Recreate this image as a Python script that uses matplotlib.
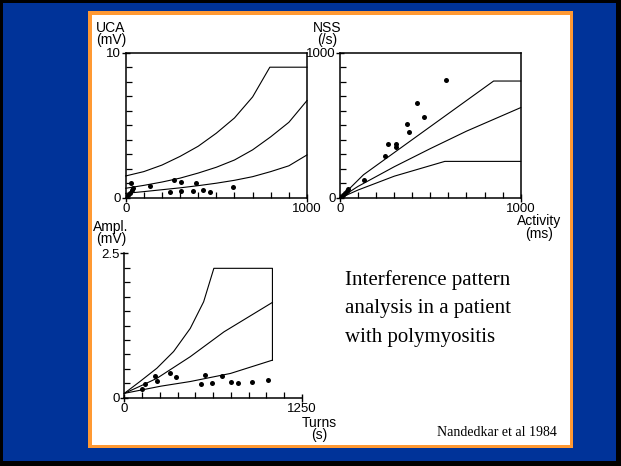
import numpy as np
import matplotlib
matplotlib.use("Agg")
import matplotlib.pyplot as plt
from matplotlib.patches import Rectangle

W, H = 621, 466
BLUE = "#003399"
ORANGE = "#FF9933"

# ── UCA (mV) vs activity (ms) ─────────────────────────────────────────────
uca_hi_x = [0, 100, 200, 300, 400, 500, 600, 700, 795, 1000]
uca_hi_y = [1.5, 1.8, 2.25, 2.85, 3.55, 4.45, 5.5, 6.95, 9.0, 9.0]
uca_mid_x = [0, 100, 200, 300, 400, 500, 600, 700, 800, 900, 1000]
uca_mid_y = [0.65, 0.85, 1.08, 1.35, 1.7, 2.1, 2.6, 3.3, 4.2, 5.2, 6.7]
uca_lo_x = [0, 100, 200, 300, 400, 500, 600, 700, 800, 900, 1000]
uca_lo_y = [0.3, 0.42, 0.55, 0.68, 0.83, 1.0, 1.2, 1.45, 1.8, 2.2, 2.95]
uca_pts_x = [15, 24, 33, 42, 28, 134, 267, 305, 386, 244, 305, 369, 428, 467, 594]
uca_pts_y = [0.18, 0.34, 0.53, 0.64, 1.0, 0.8, 1.22, 1.06, 1.03, 0.39, 0.46, 0.46, 0.53, 0.39, 0.76]

# ── NSS (/s) vs activity (ms) ─────────────────────────────────────────────
nss_hi_x = [0, 130, 850, 1000]
nss_hi_y = [0, 160, 805, 805]
nss_mid_x = [0, 100, 300, 500, 700, 1000]
nss_mid_y = [0, 80, 215, 340, 460, 622]
nss_lo_x = [0, 100, 300, 580, 1000]
nss_lo_y = [0, 55, 150, 252, 252]
nss_pts_x = [18, 28, 37, 46, 135, 249, 264, 308, 308, 369, 384, 426, 463, 587]
nss_pts_y = [23, 34, 50, 64, 124, 291, 373, 373, 348, 510, 453, 657, 556, 812]

# ── Amplitude (mV) vs turns (/s) ──────────────────────────────────────────
amp_hi_x = [0, 110, 229, 347, 464, 558, 630, 1042, 1042]
amp_hi_y = [0.075, 0.28, 0.51, 0.8, 1.2, 1.66, 2.24, 2.24, 0.65]
amp_mid_x = [0, 103, 229, 464, 701, 1042]
amp_mid_y = [0.075, 0.19, 0.335, 0.71, 1.14, 1.65]
amp_lo_x = [0, 258, 464, 747, 1042]
amp_lo_y = [0.075, 0.2, 0.28, 0.42, 0.65]
amp_pts_x = [123, 147, 213, 229, 318, 361, 540, 571, 618, 684, 752, 797, 898, 1011]
amp_pts_y = [0.15, 0.23, 0.375, 0.29, 0.43, 0.35, 0.23, 0.40, 0.25, 0.38, 0.27, 0.25, 0.27, 0.31]

plt.rcParams.update({
    "font.family": ["Liberation Sans", "DejaVu Sans"],
    "font.size": 9.5,
    "axes.linewidth": 1.1,
})

fig = plt.figure(figsize=(W / 100, H / 100), dpi=100, facecolor="black")


def box(l, t, r, b, color, z):
    fig.add_artist(Rectangle((l / W, 1 - b / H), (r - l) / W, (b - t) / H,
                             transform=fig.transFigure, facecolor=color,
                             edgecolor="none", zorder=z))


def px_axes(l, t, r, b):
    return fig.add_axes([l / W, 1 - b / H, (r - l) / W, (b - t) / H])


def ptext(x, y, s, **kw):
    fig.text(x / W, 1 - y / H, s, **kw)


def style(ax, xmax, ymax, nx, ny, ylabel_top, full_box=True):
    ax.set_xlim(0, xmax)
    ax.set_ylim(0, ymax)
    ax.set_facecolor("none")
    ax.set_xticks([0, xmax])
    ax.set_xticklabels(["0", f"{xmax:g}"])
    ax.set_yticks([0, ymax])
    ax.set_yticklabels(["0", ylabel_top])
    ax.set_xticks(np.linspace(0, xmax, nx + 1)[1:-1], minor=True)
    ax.set_yticks(np.linspace(0, ymax, ny + 1)[1:-1], minor=True)
    ax.tick_params(which="major", direction="inout", length=6, width=1.0)
    ax.tick_params(axis="x", which="major", pad=0.5)
    ax.tick_params(axis="y", which="major", pad=0.3)
    ax.tick_params(which="minor", direction="in", length=4, width=0.9)
    if not full_box:
        ax.spines["top"].set_visible(False)
        ax.spines["right"].set_visible(False)


def curves(ax, lines, px, py):
    for x, y in lines:
        ax.plot(x, y, color="black", lw=0.8, clip_on=False)
    ax.plot(px, py, "o", color="black", ms=3.6, mew=0, clip_on=False)


box(3, 3, 616, 461, BLUE, -3)
box(88, 11, 573, 448, ORANGE, -2)
box(92, 15, 570, 445, "white", -1)

ax1 = px_axes(125.7, 52.7, 307, 197.7)
style(ax1, 1000, 10, 10, 10, "10")
curves(ax1, [(uca_hi_x, uca_hi_y), (uca_mid_x, uca_mid_y), (uca_lo_x, uca_lo_y)],
       uca_pts_x, uca_pts_y)

ax2 = px_axes(340, 52.7, 520.7, 198)
style(ax2, 1000, 1000, 10, 10, "1000")
curves(ax2, [(nss_hi_x, nss_hi_y), (nss_mid_x, nss_mid_y), (nss_lo_x, nss_lo_y)],
       nss_pts_x, nss_pts_y)

ax3 = px_axes(124.3, 253.3, 302, 397.7)
style(ax3, 1250, 2.5, 10, 10, "2.5", full_box=False)
curves(ax3, [(amp_hi_x, amp_hi_y), (amp_mid_x, amp_mid_y), (amp_lo_x, amp_lo_y)],
       amp_pts_x, amp_pts_y)

lab = dict(ha="center", va="top", linespacing=0.85, fontsize=10)
ptext(111, 21, "UCA\n(mV)", **lab)
ptext(327, 21, "NSS\n(/s)", **lab)
ptext(111, 220, "Ampl.\n(mV)", **lab)
ptext(539, 214.5, "Activity\n(ms)", **lab)
ptext(319, 416, "Turns\n(s)", **lab)

serif = dict(family=["Liberation Serif", "DejaVu Serif"], ha="left", va="baseline")
ptext(345, 285, "Interference pattern", fontsize=15, **serif)
ptext(345, 313.3, "analysis in a patient", fontsize=15, **serif)
ptext(345, 341.7, "with polymyositis", fontsize=15, **serif)
ptext(437, 436, "Nandedkar et al 1984", fontsize=10, **serif)

fig.savefig("out.png", dpi=100, facecolor=fig.get_facecolor())
